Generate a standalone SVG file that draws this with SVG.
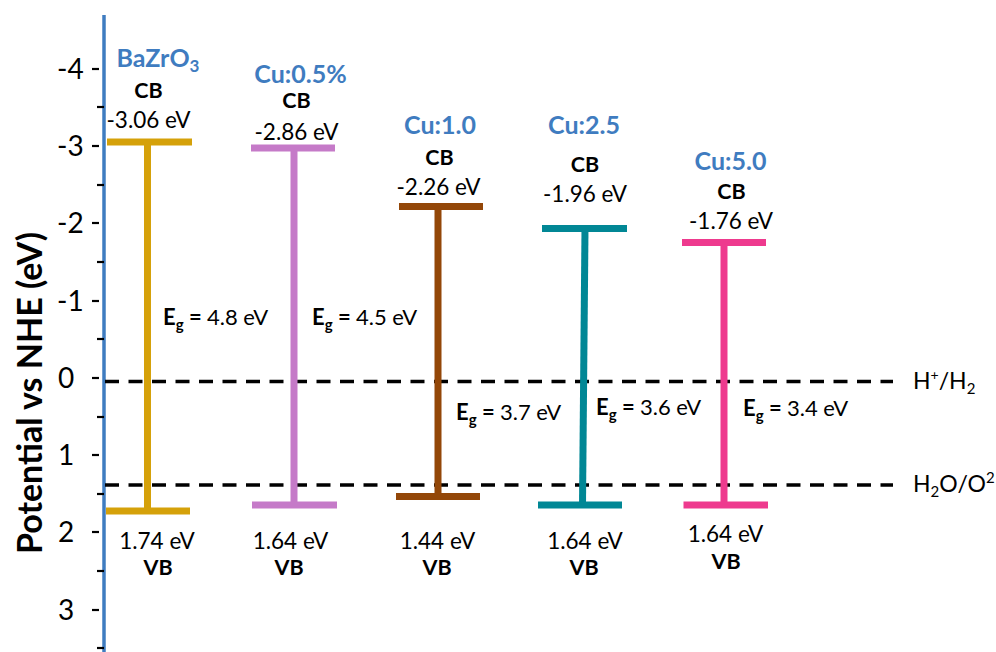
<svg xmlns="http://www.w3.org/2000/svg" width="996" height="652" viewBox="0 0 996 652">
  <style>
    text { font-family: Lato, "Liberation Sans", sans-serif; fill: #000; }
    .tick { font-size: 28px; }
    .title { font-size: 34px; font-weight: bold; text-anchor: middle; }
    .name { font-size: 25px; font-weight: bold; fill: #3f7cc0; text-anchor: middle; }
    .band { font-size: 21.5px; font-weight: bold; text-anchor: middle; }
    .val { font-size: 22.5px; text-anchor: middle; }
    .eg { font-size: 22px; }
    .b { font-weight: bold; }
    .ref { font-size: 23px; }
    .lvl { stroke: #000; stroke-width: 3.5; stroke-dasharray: 14 9.5; fill: none; }
    .tk { stroke: #000; stroke-width: 2.2; }
    .bar { stroke-width: 7; fill: none; }
    .yel { stroke: #d5a10a; }
    .pur { stroke: #c57ac8; }
    .brn { stroke: #934708; }
    .tea { stroke: #018795; }
    .pnk { stroke: #ee3a8e; }
  </style>

  <rect width="996" height="652" fill="#fff"/>

  <!-- potential axis -->
  <g id="axis">
    <line x1="104" y1="15" x2="104" y2="652" stroke="#3f7cc0" stroke-width="3.5"/>
    <g class="tk">
      <line x1="92" y1="69" x2="99" y2="69"/>
      <line x1="92" y1="146" x2="99" y2="146"/>
      <line x1="92" y1="223" x2="99" y2="223"/>
      <line x1="92" y1="301" x2="99" y2="301"/>
      <line x1="92" y1="378" x2="99" y2="378"/>
      <line x1="92" y1="455" x2="99" y2="455"/>
      <line x1="92" y1="532" x2="99" y2="532"/>
      <line x1="92" y1="610" x2="99" y2="610"/>
      <line x1="97" y1="107" x2="104" y2="107"/>
      <line x1="97" y1="185" x2="104" y2="185"/>
      <line x1="97" y1="262" x2="104" y2="262"/>
      <line x1="97" y1="339" x2="104" y2="339"/>
      <line x1="97" y1="417" x2="104" y2="417"/>
      <line x1="97" y1="494" x2="104" y2="494"/>
      <line x1="97" y1="571" x2="104" y2="571"/>
      <line x1="97" y1="648" x2="104" y2="648"/>
    </g>
    <text class="tick" x="57" y="79">-4</text>
    <text class="tick" x="57" y="156">-3</text>
    <text class="tick" x="57" y="233">-2</text>
    <text class="tick" x="57" y="311">-1</text>
    <text class="tick" x="58" y="388">0</text>
    <text class="tick" x="58" y="465">1</text>
    <text class="tick" x="58" y="542">2</text>
    <text class="tick" x="58" y="620">3</text>
    <text class="title" transform="translate(42,393) rotate(-90)">Potential vs NHE (eV)</text>
  </g>

  <!-- redox reference levels -->
  <g id="reference-levels">
    <line class="lvl" x1="105" y1="381.5" x2="893" y2="381.5"/>
    <line class="lvl" x1="105" y1="485" x2="893" y2="485"/>
    <text class="ref" x="913" y="389">H<tspan font-size="14" dy="-9">+</tspan><tspan dy="9">/H</tspan><tspan font-size="15" dy="5">2</tspan></text>
    <text class="ref" x="913" y="492">H<tspan font-size="15" dy="5">2</tspan><tspan dy="-5">O/O</tspan><tspan font-size="15" dy="-9">2</tspan></text>
  </g>

  <!-- BaZrO3 -->
  <g id="bazro3">
    <line class="bar yel" x1="107" y1="142" x2="192" y2="142"/>
    <line class="bar yel" x1="147.5" y1="142" x2="147.5" y2="511"/>
    <line class="bar yel" x1="106" y1="511" x2="190" y2="511"/>
    <text class="name" x="158" y="67">BaZrO<tspan font-size="17" dy="5">3</tspan></text>
    <text class="band" x="148.5" y="98">CB</text>
    <text class="val" x="148.5" y="128">-3.06 eV</text>
    <text class="eg" x="163" y="325"><tspan class="b">E</tspan><tspan class="b" font-size="15" dy="5">g</tspan><tspan class="b" dy="-5"> = </tspan>4.8 eV</text>
    <text class="val" x="157" y="549">1.74 eV</text>
    <text class="band" x="158" y="575">VB</text>
  </g>

  <!-- Cu 0.5% -->
  <g id="cu-0-5">
    <line class="bar pur" x1="251" y1="148" x2="335" y2="148"/>
    <line class="bar pur" x1="294" y1="148" x2="294" y2="505"/>
    <line class="bar pur" x1="252" y1="505" x2="337" y2="505"/>
    <text class="name" x="300.5" y="83">Cu:0.5%</text>
    <text class="band" x="296.5" y="108">CB</text>
    <text class="val" x="296.5" y="140">-2.86 eV</text>
    <text class="eg" x="312" y="325"><tspan class="b">E</tspan><tspan class="b" font-size="15" dy="5">g</tspan><tspan class="b" dy="-5"> = </tspan>4.5 eV</text>
    <text class="val" x="290.5" y="549">1.64 eV</text>
    <text class="band" x="289" y="575">VB</text>
  </g>

  <!-- Cu 1.0 -->
  <g id="cu-1-0">
    <line class="bar brn" x1="399" y1="206.5" x2="483" y2="206.5"/>
    <line class="bar brn" x1="438" y1="206.5" x2="438" y2="496.5"/>
    <line class="bar brn" x1="396" y1="496.5" x2="480" y2="496.5"/>
    <text class="name" x="440" y="134">Cu:1.0</text>
    <text class="band" x="439.5" y="165">CB</text>
    <text class="val" x="438.5" y="195">-2.26 eV</text>
    <text class="eg" x="456" y="420"><tspan class="b">E</tspan><tspan class="b" font-size="15" dy="5">g</tspan><tspan class="b" dy="-5"> = </tspan>3.7 eV</text>
    <text class="val" x="437.5" y="549">1.44 eV</text>
    <text class="band" x="437" y="575">VB</text>
  </g>

  <!-- Cu 2.5 -->
  <g id="cu-2-5">
    <line class="bar tea" x1="542" y1="228.5" x2="627" y2="228.5"/>
    <line class="bar tea" x1="585" y1="228.5" x2="582.5" y2="505"/>
    <line class="bar tea" x1="538" y1="505" x2="622" y2="505"/>
    <text class="name" x="584" y="134">Cu:2.5</text>
    <text class="band" x="585" y="172">CB</text>
    <text class="val" x="585" y="202">-1.96 eV</text>
    <text class="eg" x="596" y="415"><tspan class="b">E</tspan><tspan class="b" font-size="15" dy="5">g</tspan><tspan class="b" dy="-5"> = </tspan>3.6 eV</text>
    <text class="val" x="585" y="549">1.64 eV</text>
    <text class="band" x="584" y="575">VB</text>
  </g>

  <!-- Cu 5.0 -->
  <g id="cu-5-0">
    <line class="bar pnk" x1="682" y1="242.5" x2="766" y2="242.5"/>
    <line class="bar pnk" x1="724" y1="242.5" x2="724" y2="505"/>
    <line class="bar pnk" x1="683.5" y1="505" x2="768" y2="505"/>
    <text class="name" x="730.5" y="170">Cu:5.0</text>
    <text class="band" x="731.5" y="199">CB</text>
    <text class="val" x="731" y="229">-1.76 eV</text>
    <text class="eg" x="743" y="416"><tspan class="b">E</tspan><tspan class="b" font-size="15" dy="5">g</tspan><tspan class="b" dy="-5"> = </tspan>3.4 eV</text>
    <text class="val" x="725.5" y="542">1.64 eV</text>
    <text class="band" x="726" y="569">VB</text>
  </g>
</svg>
